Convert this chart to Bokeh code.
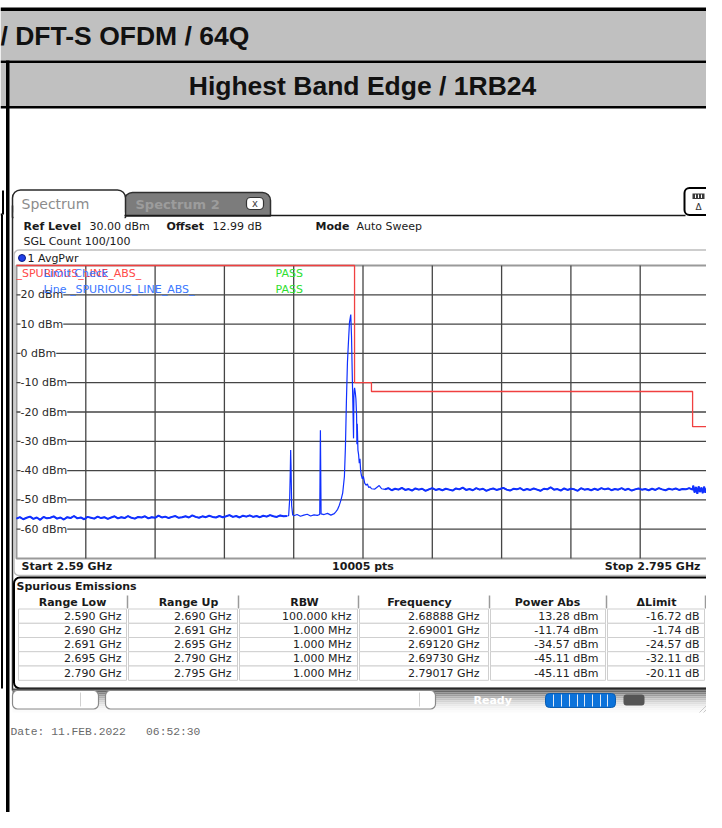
import numpy as np
from bokeh.plotting import figure
from bokeh.models import Range1d
from bokeh.core.properties import value
from bokeh.embed import file_html
from bokeh.resources import INLINE

# ---------------- data ----------------
TITLE_1 = "/ DFT-S OFDM / 64Q"
TITLE_2 = "Highest Band Edge / 1RB24"
F_START, F_STOP = 2.590, 2.795          # GHz
REF_LEVEL, BOTTOM_LEVEL = 30.0, -70.0    # dBm
N_POINTS = 10005
OFFSET_DB = 12.99
DATE_TEXT = "Date: 11.FEB.2022   06:52:30"

level_ticks = [20, 10, 0, -10, -20, -30, -40, -50, -60]

# spurious emissions table
range_low_ghz = [2.590, 2.690, 2.691, 2.695, 2.790]
range_up_ghz = [2.690, 2.691, 2.695, 2.790, 2.795]
rbw_text = ["100.000 kHz", "1.000 MHz", "1.000 MHz", "1.000 MHz", "1.000 MHz"]
peak_freq_ghz = [2.68888, 2.69001, 2.69120, 2.69730, 2.79017]
power_abs_dbm = [13.28, -11.74, -34.57, -45.11, -45.11]
delta_limit_db = [-16.72, -1.74, -24.57, -32.11, -20.11]
table_headers = ["Range Low", "Range Up", "RBW", "Frequency", "Power Abs", "\u0394Limit"]

# trace 1 (AvgPwr): noise floor below the band, 1 MHz steps from 2.590 GHz
noise_low_step = 0.001
noise_low_dbm = [
    -56.4, -55.9, -56.6, -56.1, -55.7, -56.5, -56.0, -56.8, -55.8, -56.3,
    -56.1, -55.6, -56.4, -56.0, -56.7, -55.9, -56.2, -55.5, -56.3, -56.0,
    -56.6, -55.8, -56.1, -56.4, -55.7, -56.2, -55.9, -56.5, -56.0, -55.6,
    -56.3, -55.9, -56.2, -55.5, -56.1, -56.4, -55.8, -56.0, -55.6, -56.3,
    -55.9, -56.1, -55.4, -56.0, -55.7, -56.2, -55.8, -55.5, -56.1, -55.9,
    -55.6, -56.0, -55.3, -55.8, -56.1, -55.6, -55.9, -55.4, -55.8, -56.0,
    -55.5, -55.9, -55.6, -55.2, -55.8, -55.5, -56.0, -55.4, -55.7, -55.3,
    -55.8, -55.5, -55.9, -55.4, -55.7, -55.2, -55.6, -55.8, -55.3, -55.6, -55.5]
# spurs, carrier and its skirt
mid_freq = [2.6705, 2.6708, 2.6710, 2.6711, 2.6712, 2.6714, 2.6717, 2.6720, 2.6730,
            2.6740, 2.6750, 2.6760, 2.6770, 2.6780, 2.6790, 2.6797, 2.6799, 2.6801,
            2.6810, 2.6820, 2.6830, 2.6840, 2.6845, 2.6850, 2.6855, 2.6860, 2.6865,
            2.6870, 2.6873, 2.6876, 2.6879, 2.6882, 2.6885, 2.68888, 2.6891, 2.6893,
            2.6895, 2.6897, 2.6898, 2.6899, 2.69001, 2.6902, 2.6904, 2.6906, 2.6907,
            2.6908, 2.6910, 2.6912, 2.6914, 2.6916, 2.6918, 2.6920, 2.6923, 2.6926,
            2.6930, 2.6934, 2.6938, 2.6942, 2.6946, 2.6950, 2.6960, 2.6973, 2.6980]
mid_dbm = [-55.4, -50.0, -40.0, -33.0, -38.0, -52.0, -55.1, -55.4, -55.0,
           -55.6, -55.2, -54.9, -55.5, -55.1, -55.3, -55.0, -26.2, -54.8,
           -55.0, -54.6, -55.2, -54.7, -54.0, -53.2, -51.8, -50.0, -47.6,
           -42.0, -32.0, -16.0, -3.0, 4.0, 10.5, 13.28, 6.0, -6.0,
           -17.0, -29.0, -15.0, -12.6, -11.74, -13.2, -15.5, -21.0, -31.0,
           -24.0, -33.0, -34.57, -37.5, -36.0, -40.0, -41.5, -42.8, -42.0,
           -44.3, -45.0, -44.6, -45.8, -45.5, -46.2, -46.3, -45.11, -46.2]
# noise floor above the band, 1 MHz steps from 2.699 GHz
noise_high_start, noise_high_step = 2.699, 0.001
noise_high_dbm = [
    -46.4, -46.0, -46.7, -46.2, -46.5, -45.9, -46.6, -46.3, -46.8, -46.1,
    -46.5, -46.2, -46.9, -46.4, -46.0, -46.6, -46.3, -46.7, -46.2, -46.5,
    -46.8, -46.1, -46.4, -45.8, -46.6, -46.3, -46.7, -46.0, -46.5, -46.2,
    -46.9, -46.4, -46.1, -46.6, -46.3, -45.9, -46.5, -46.8, -46.2, -46.4,
    -46.0, -46.7, -46.3, -46.6, -46.1, -46.5, -46.9, -46.2, -46.4, -45.7,
    -46.5, -46.3, -46.8, -46.1, -46.6, -46.2, -46.4, -46.9, -46.0, -46.5,
    -46.3, -46.7, -46.2, -46.6, -46.0, -46.4, -46.1, -46.7, -46.3, -46.5,
    -46.0, -46.6, -46.2, -46.8, -46.4, -46.1, -46.5, -46.3, -46.7, -46.2,
    -46.6, -46.0, -46.4, -46.7, -46.2, -46.5, -46.1, -46.6, -46.3, -46.4,
    -46.0, -46.5]
edge_freq = [2.7902, 2.7906, 2.7910, 2.7914, 2.7918, 2.7922, 2.7926, 2.7930,
             2.7934, 2.7938, 2.7942, 2.7946, 2.7950]
edge_dbm = [-45.11, -47.5, -45.6, -47.9, -45.4, -47.3, -45.8, -47.7,
            -45.5, -47.6, -45.9, -47.2, -46.0]

# ---------------- layout (picture pixels) ----------------
PX0, PX1, PY0, PY1 = 0, 706, 0, 812          # visible canvas
GX0, GX1, GY0, GY1 = 16, 709, 265, 558       # spectrum grid box
COL_EDGES = [17, 127, 238, 358, 489, 606, 705]
TEXT_RIGHT = [121, 231, 351, 479, 598, 699]
HEAD_CENTER = [72, 188, 304, 419, 547, 656]
ROW_EDGES = [608.5, 622.8, 637.0, 651.2, 665.5, 679.8]

SANS = value("DejaVu Sans")
ARIAL = value("Liberation Sans")
MONO = value("Liberation Mono")

p = figure(width=PX1 - PX0, height=PY1 - PY0,
           x_range=Range1d(PX0, PX1), y_range=Range1d(PY1, PY0),
           x_axis_location=None, y_axis_location=None,
           output_backend="svg", toolbar_location=None, min_border=0)
p.grid.visible = False
p.outline_line_color = None
p.background_fill_color = "white"
p.border_fill_color = "white"

f_per_px = (F_STOP - F_START) / (GX1 - GX0)
d_per_px = (REF_LEVEL - BOTTOM_LEVEL) / (GY1 - GY0)
p.extra_x_ranges = {"freq": Range1d(F_START - (GX0 - PX0) * f_per_px,
                                    F_STOP + (PX1 - GX1) * f_per_px)}
p.extra_y_ranges = {"dbm": Range1d(BOTTOM_LEVEL - (PY1 - GY1) * d_per_px,
                                   REF_LEVEL + (GY0 - PY0) * d_per_px)}
FD = dict(x_range_name="freq", y_range_name="dbm")


def txt(x, y, s, size="11px", color="#1a1a1a", bold=False, align="left", font=SANS, **kw):
    p.text(x=[x], y=[y], text=[s], text_font=font, text_font_size=size,
           text_font_style="bold" if bold else "normal", text_color=color,
           text_align=align, text_baseline="middle", **kw)


# ---------------- document table ----------------
p.quad(left=[0], right=[720], top=[7], bottom=[10.5], fill_color="black", line_color=None)
p.quad(left=[0], right=[716], top=[10.5], bottom=[60], fill_color="#c0c0c0", line_color=None)
p.quad(left=[0], right=[720], top=[60], bottom=[62.5], fill_color="black", line_color=None)
p.quad(left=[0], right=[716], top=[62.5], bottom=[105.5], fill_color="#c0c0c0", line_color=None)
p.quad(left=[0], right=[720], top=[105.5], bottom=[108], fill_color="black", line_color=None)
p.quad(left=[5.5], right=[9], top=[60], bottom=[830], fill_color="black", line_color=None)
txt(0, 35, TITLE_1, size="26.5px", bold=True, font=ARIAL, color="#111111")
txt(362, 85, TITLE_2, size="26.5px", bold=True, font=ARIAL, color="#111111", align="center")

# neighbouring screenshot edge (left of the cell border)
p.segment(x0=[1.5, 0], y0=[214, 214], x1=[1.5, 1.5], y1=[688, 214],
          line_color="black", line_width=2)
p.segment(x0=[2.5], y0=[190], x1=[2.5], y1=[214], line_color="black", line_width=2)

# ---------------- analyzer screenshot: tabs ----------------
p.quad(left=[124], right=[270], top=[192], bottom=[215.5], fill_color="#7c7c7c",
       line_color="#303030", line_width=1.5, border_radius=(8, 8, 0, 0))
txt(135, 203.5, "Spectrum 2", size="13px", bold=True, color="#9c9c9c")
p.quad(left=[246], right=[263], top=[197], bottom=[209], fill_color="white",
       line_color="#333333", line_width=1.2, border_radius=4)
txt(254.5, 202.5, "x", size="10px", color="#444444", align="center")
p.quad(left=[12], right=[125], top=[189.5], bottom=[217], fill_color="white",
       line_color="#2a2a2a", line_width=1.5, border_radius=(8, 8, 0, 0))
p.quad(left=[13], right=[124], top=[212], bottom=[220], fill_color="white", line_color=None)
txt(21, 203, "Spectrum", size="14px", color="#8c8c8c")
p.segment(x0=[124], y0=[215], x1=[685], y1=[215], line_color="#1a1a1a", line_width=1.5)
p.segment(x0=[12, 712], y0=[205, 214], x1=[12, 712], y1=[690, 690],
          line_color="#2a2a2a", line_width=1.5)
p.quad(left=[684], right=[712], top=[187.5], bottom=[214.5], fill_color="white",
       line_color="black", line_width=2, border_radius=5)
p.quad(left=[692], right=[704], top=[193], bottom=[198.5], fill_color="#3a3a3a", line_color=None)
p.segment(x0=[695, 698, 701], y0=[194, 194, 194], x1=[695, 698, 701], y1=[197.5, 197.5, 197.5],
          line_color="white", line_width=1)
txt(698, 206.5, "\u0394", size="9px", color="#333333", align="center")

# ---------------- header info ----------------
txt(23, 226, "Ref Level", bold=True)
txt(89, 226, f"{REF_LEVEL:.2f} dBm")
txt(166, 226, "Offset", bold=True)
txt(212, 226, f"{OFFSET_DB:.2f} dB")
txt(315, 226, "Mode", bold=True)
txt(356, 226, "Auto Sweep")
txt(23, 241, "SGL Count 100/100")

# ---------------- trace window ----------------
p.quad(left=[13.5], right=[710.5], top=[249.5], bottom=[575], fill_color="white",
       line_color="#bdbdbd", line_width=1.5, border_radius=5)
p.scatter(x=[21.5], y=[257.5], size=7, fill_color="#1f3fe8", line_color="#0a1a80")
txt(27, 257.5, "1 AvgPwr")

# grid
p.quad(left=[F_START], right=[F_STOP], top=[REF_LEVEL], bottom=[BOTTOM_LEVEL],
       fill_color="white", line_color="#9a9a9a", line_width=2, **FD)
freq_divs = list(np.linspace(F_START, F_STOP, 11))[1:-1]
p.segment(x0=freq_divs, y0=[BOTTOM_LEVEL] * len(freq_divs), x1=freq_divs,
          y1=[REF_LEVEL] * len(freq_divs), line_color="#454545", line_width=1.3, **FD)
lvl_lines = list(range(int(REF_LEVEL) - 10, int(BOTTOM_LEVEL), -10))
p.segment(x0=[F_START] * len(lvl_lines), y0=lvl_lines, x1=[F_STOP] * len(lvl_lines),
          y1=lvl_lines, line_color="#454545", line_width=1.3, **FD)
p.text(x=[20] * len(level_ticks), y=level_ticks, text=[f"{v} dBm" for v in level_ticks],
       text_font=SANS, text_font_size="11px", text_color="#2a2a2a",
       text_baseline="middle", text_align="left", background_fill_color="white",
       y_range_name="dbm")

# limit line
lim_x, lim_y = [], []
for lo, up, pw, dl in zip(range_low_ghz, range_up_ghz, power_abs_dbm, delta_limit_db):
    lim_x += [lo, up]
    lim_y += [pw - dl, pw - dl]
p.line(lim_x, lim_y, line_color="#f04040", line_width=1.3, **FD)

# trace
low_f = [round(F_START + i * noise_low_step, 4) for i in range(len(noise_low_dbm))]
high_f = [round(noise_high_start + i * noise_high_step, 4) for i in range(len(noise_high_dbm))]
trace_f = low_f + mid_freq + high_f + edge_freq
trace_dbm = noise_low_dbm + mid_dbm + noise_high_dbm + edge_dbm
p.line(trace_f, trace_dbm, line_color="#1030ff", line_width=1.2, **FD)
# the noise floor renders as a denser band
p.line(low_f, noise_low_dbm, line_color="#1030ff", line_width=2.0, **FD)
p.line(high_f + edge_freq, noise_high_dbm + edge_dbm, line_color="#1030ff", line_width=2.0, **FD)

# limit check labels
txt(16, 273, "_SPURIOUS_LINE_ABS_", color="#ff4a4a")
txt(43, 273, "Limit Check", color="#3b78ff")
txt(275, 273, "PASS", color="#2fe02f")
txt(43, 289, "Line _SPURIOUS_LINE_ABS_", color="#3b78ff")
txt(275, 289, "PASS", color="#2fe02f")

# start / stop
txt(21, 566, f"Start {F_START:g} GHz", bold=True)
txt((GX0 + GX1) / 2, 566, f"{N_POINTS} pts", bold=True, align="center")
txt(700, 566, f"Stop {F_STOP:g} GHz", bold=True, align="right")

# ---------------- spurious emissions table ----------------
p.quad(left=[13.5], right=[711], top=[577], bottom=[688], fill_color="white",
       line_color="black", line_width=2, border_radius=6)
txt(16, 585.5, "Spurious Emissions", bold=True)
p.segment(x0=COL_EDGES[1:], y0=[595] * 6, x1=COL_EDGES[1:], y1=[608] * 6,
          line_color="#9a9a9a", line_width=1.5)
for j, h in enumerate(table_headers):
    txt(HEAD_CENTER[j], 601.5, h, bold=True, align="center")
cols = [[f"{v:.3f} GHz" for v in range_low_ghz],
        [f"{v:.3f} GHz" for v in range_up_ghz],
        rbw_text,
        [f"{v:.5f} GHz" for v in peak_freq_ghz],
        [f"{v:.2f} dBm" for v in power_abs_dbm],
        [f"{v:.2f} dB" for v in delta_limit_db]]
for i in range(5):
    top, bot = ROW_EDGES[i], ROW_EDGES[i + 1]
    p.quad(left=[e + 1 for e in COL_EDGES[:-1]], right=[e - 1 for e in COL_EDGES[1:]],
           top=[top] * 6, bottom=[bot] * 6, fill_color="white",
           line_color="#cfcfcf", line_width=1)
    for j in range(6):
        txt(TEXT_RIGHT[j], (top + bot) / 2, cols[j][i], color="#222222", align="right")

# ---------------- status bar ----------------
shades = ["#505050", "#6a6a6a", "#858585", "#9d9d9d", "#b2b2b2", "#c4c4c4",
          "#d3d3d3", "#dfdfdf", "#e9e9e9", "#f1f1f1", "#f7f7f7", "#fbfbfb"]
for k, c in enumerate(shades):
    p.quad(left=[12], right=[713], top=[688 + 2 * k], bottom=[690 + 2 * k],
           fill_color=c, line_color=None)
p.quad(left=[12, 105], right=[98, 435], top=[690, 690], bottom=[708.5, 708.5],
       fill_color="white", line_color="#8a8a8a", line_width=1.2, border_radius=5)
p.segment(x0=[80, 419], y0=[692, 692], x1=[80, 419], y1=[706, 706],
          line_color="#d0d0d0", line_width=1)
txt(473, 700, "Ready", bold=True, color="#ffffff")
p.quad(left=[545], right=[615], top=[693], bottom=[707], fill_color="#0b72da",
       line_color="#0a5cb0", line_width=1, border_radius=4)
seps = [553, 561, 569, 577, 584, 592, 600, 607]
p.segment(x0=seps, y0=[694] * 8, x1=seps, y1=[706] * 8, line_color="#dfe9f5", line_width=1)
p.quad(left=[623], right=[644], top=[694], bottom=[705], fill_color="#555555",
       line_color=None, border_radius=3)
p.segment(x0=[699, 703, 707], y0=[712, 712, 712], x1=[712, 712, 712], y1=[699, 703, 707],
          line_color="#c8c8c8", line_width=1)

# ---------------- date ----------------
txt(10, 731, DATE_TEXT.replace(" ", "\u00a0"), size="11.3px", color="#6a6a6a", font=MONO)

open("out.html", "w").write(file_html(p, INLINE))
